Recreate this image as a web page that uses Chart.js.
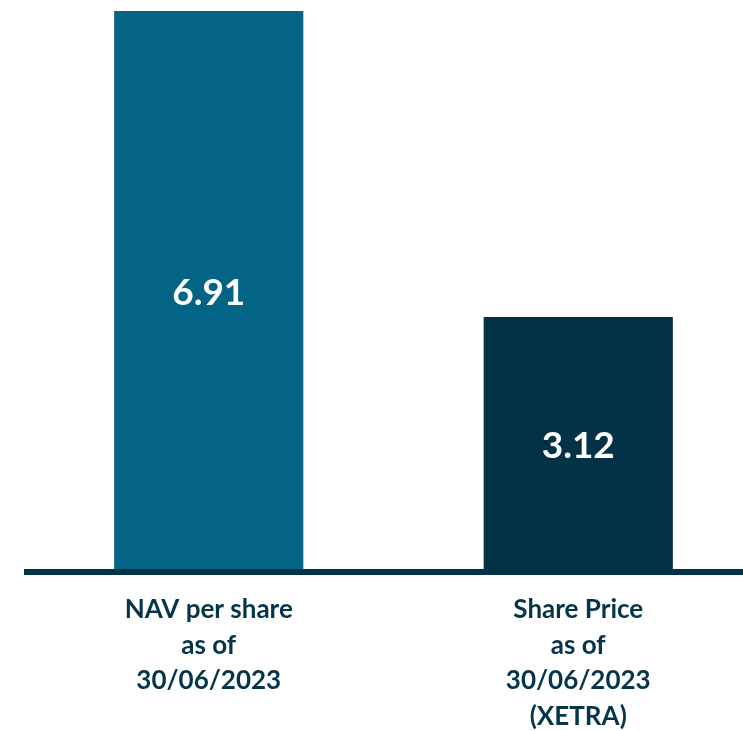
<!DOCTYPE html>
<html>
<head>
  <script src="https://cdn.jsdelivr.net/npm/chart.js@4"></script>
  <style>
    html, body { margin: 0; padding: 0; background: #fff; }
    #wrap { width: 743px; height: 731px; overflow: hidden; }
    #inner { width: 763px; height: 731px; }
  </style>
</head>
<body>
  <div id="wrap"><div id="inner"><canvas id="myChart"></canvas></div></div>
  <script>
    const labels = [
      ['NAV per share', 'as of', '30/06/2023'],
      ['Share Price', 'as of', '30/06/2023', '(XETRA)'],
    ];
    const values = [6.91, 3.12];
    const colors = ['#036485', '#033246'];
    const textColor = '#05354a';

    // value labels in the middle of each bar
    const barValues = {
      id: 'barValues',
      afterDatasetsDraw(chart) {
        const ctx = chart.ctx;
        const meta = chart.getDatasetMeta(0);
        ctx.save();
        ctx.font = 'bold 37px Lato';
        ctx.fillStyle = '#fff';
        ctx.textAlign = 'center';
        ctx.textBaseline = 'middle';
        meta.data.forEach((bar, i) => {
          const y = (bar.y + bar.base) / 2;
          ctx.fillText(values[i].toFixed(2), bar.x, y + 3);
        });
        ctx.restore();
      },
    };

    // thick baseline
    const baseLine = {
      id: 'baseLine',
      afterDatasetsDraw(chart) {
        const { ctx, chartArea } = chart;
        ctx.save();
        ctx.fillStyle = '#033246';
        ctx.fillRect(chartArea.left, chartArea.bottom, chart.width - chartArea.left, 6);
        ctx.restore();
      },
    };

    new Chart(document.getElementById('myChart').getContext('2d'), {
      type: 'bar',
      data: {
        labels,
        datasets: [{
          data: values,
          backgroundColor: colors,
          barPercentage: 0.512,
          categoryPercentage: 1,
        }],
      },
      options: {
        responsive: true,
        maintainAspectRatio: false,
        animation: false,
        layout: { padding: { left: 24, top: 11, right: 0, bottom: 0 } },
        plugins: { legend: { display: false }, tooltip: { enabled: false } },
        scales: {
          x: {
            grid: { display: false, drawTicks: false },
            border: { display: false },
            ticks: {
              color: textColor,
              font: { family: 'Lato', weight: 'bold', size: 26, lineHeight: 1.365 },
              padding: 23,
              maxRotation: 0,
            },
            afterFit(scale) { scale.height = 162; },
          },
          y: {
            display: false,
            min: 0,
            max: 6.91,
          },
        },
      },
      plugins: [barValues, baseLine],
    });
  </script>
</body>
</html>
